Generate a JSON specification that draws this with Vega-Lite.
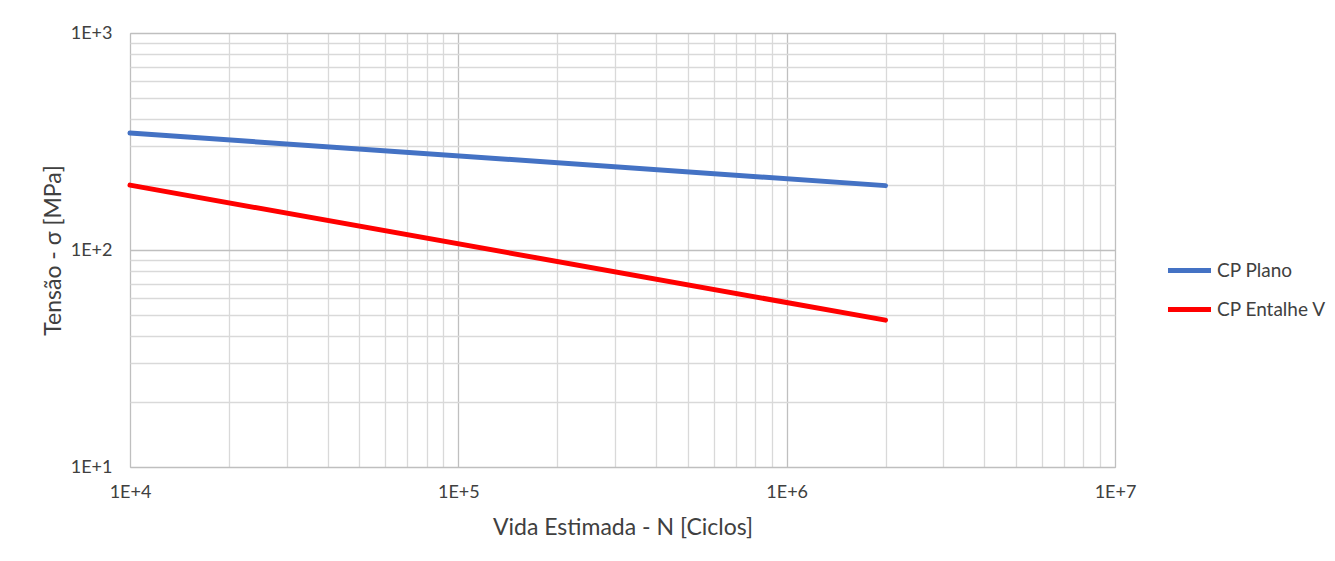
{
  "$schema": "https://vega.github.io/schema/vega-lite/v6.json",
  "width": 985,
  "height": 434,
  "autosize": "none",
  "padding": {"left": 130, "top": 33, "right": 220, "bottom": 94},
  "background": "white",
  "config": {
    "font": "Lato",
    "view": {"stroke": "#bfbfbf", "strokeWidth": 1}
  },
  "data": {
    "values": [
      {"N": 10000, "S": 346, "serie": "CP Plano"},
      {"N": 2000000, "S": 198, "serie": "CP Plano"},
      {"N": 10000, "S": 199, "serie": "CP Entalhe V"},
      {"N": 2000000, "S": 47.5, "serie": "CP Entalhe V"}
    ]
  },
  "mark": {"type": "line", "strokeWidth": 5, "strokeCap": "round"},
  "encoding": {
    "x": {
      "field": "N", "type": "quantitative",
      "scale": {"type": "log", "domain": [10000, 10000000], "nice": false},
      "axis": {
        "title": "Vida Estimada - N [Ciclos]",
        "titleFont": "Lato", "titleFontSize": 23, "titleFontWeight": "normal", "titleColor": "#404040", "titlePadding": 15,
        "values": [10000,20000,30000,40000,50000,60000,70000,80000,90000,100000,200000,300000,400000,500000,600000,700000,800000,900000,1000000,2000000,3000000,4000000,5000000,6000000,7000000,8000000,9000000,10000000],
        "labelExpr": "abs(log(datum.value)/LN10 - round(log(datum.value)/LN10)) < 0.001 ? '1E+' + round(log(datum.value)/LN10) : ''",
        "labelFontSize": 18, "labelColor": "#404040", "labelPadding": 16, "labelFlush": false,
        "ticks": false, "domain": false,
        "gridColor": {"condition": {"test": "abs(log(datum.value)/LN10 - round(log(datum.value)/LN10)) < 0.001", "value": "#bfbfbf"}, "value": "#d9d9d9"},
        "gridWidth": 1.3
      }
    },
    "y": {
      "field": "S", "type": "quantitative",
      "scale": {"type": "log", "domain": [10, 1000], "nice": false},
      "axis": {
        "title": "Tensão - σ [MPa]",
        "titleFont": "Lato", "titleFontSize": 23, "titleFontWeight": "normal", "titleColor": "#404040", "titlePadding": 5,
        "values": [10,20,30,40,50,60,70,80,90,100,200,300,400,500,600,700,800,900,1000],
        "labelExpr": "abs(log(datum.value)/LN10 - round(log(datum.value)/LN10)) < 0.001 ? '1E+' + round(log(datum.value)/LN10) : ''",
        "labelFontSize": 18, "labelColor": "#404040", "labelPadding": 18,
        "ticks": false, "domain": false,
        "gridColor": {"condition": {"test": "abs(log(datum.value)/LN10 - round(log(datum.value)/LN10)) < 0.001", "value": "#bfbfbf"}, "value": "#d9d9d9"},
        "gridWidth": 1.3
      }
    },
    "color": {
      "field": "serie", "type": "nominal",
      "scale": {"domain": ["CP Plano", "CP Entalhe V"], "range": ["#4472C4", "#FF0000"]},
      "legend": {
        "title": null, "orient": "none", "legendX": 1035, "legendY": 213,
        "symbolType": "stroke", "symbolSize": 1850, "symbolStrokeWidth": 5,
        "labelFontSize": 19, "labelColor": "#404040", "labelFont": "Lato",
        "rowPadding": 4, "labelOffset": 3
      }
    }
  }
}
